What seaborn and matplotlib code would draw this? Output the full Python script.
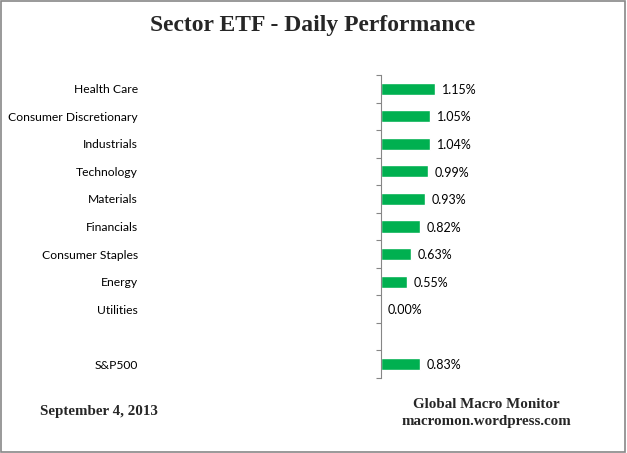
import numpy as np
import pandas as pd
import matplotlib.pyplot as plt
import seaborn as sns

sns.set_theme(style="white")
plt.rcParams['font.family'] = ['Lato', 'DejaVu Sans']

GREEN = "#00B050"

categories = ["Health Care", "Consumer Discretionary", "Industrials", "Technology",
              "Materials", "Financials", "Consumer Staples", "Energy", "Utilities",
              " ", "S&P500"]
values = [1.15, 1.05, 1.04, 0.99, 0.93, 0.82, 0.63, 0.55, 0.00, np.nan, 0.83]
value_labels = ["1.15%", "1.05%", "1.04%", "0.99%", "0.93%", "0.82%", "0.63%",
                "0.55%", "0.00%", "", "0.83%"]

df = pd.DataFrame({"cat": categories, "val": values})

fig = plt.figure(figsize=(6.27, 4.53), dpi=100)
ax = fig.add_axes([381 / 627, 1 - 378 / 453, 219 / 627, 303 / 453])

sns.barplot(data=df, y="cat", x="val", color=GREEN, saturation=1,
            width=0.44, ax=ax, orient="h")

ax.set_xlim(0, 219 / 47)
ax.set_ylim(len(categories) - 0.5, -0.5)
ax.set_xlabel("")
ax.set_ylabel("")
ax.set_xticks([])
ax.set_yticks(np.arange(len(categories) + 1) - 0.5, minor=True)
ax.set_yticks(np.arange(len(categories)))
ax.set_yticklabels(categories, fontsize=8.7, color="#000000")
ax.tick_params(axis="y", which="major", length=0, pad=175)
ax.tick_params(axis="y", which="minor", length=3.5, color="#868686", width=0.8, left=True)
for s in ["top", "right", "bottom"]:
    ax.spines[s].set_visible(False)
ax.spines["left"].set_color("#868686")
ax.spines["left"].set_linewidth(0.8)

for i, (v, lab) in enumerate(zip(values, value_labels)):
    if lab:
        ax.text(v + 0.15, i + 0.04, lab, va="center", ha="left", fontsize=9, color="#000000")

fig.text(313 / 627, 1 - 26 / 453, "Sector ETF - Daily Performance", ha="center", va="center",
         fontsize=17, fontweight="bold", family="Liberation Serif")
fig.text(99 / 627, 1 - 411 / 453, "September 4, 2013", ha="center", va="center",
         fontsize=10.8, fontweight="bold", family="Liberation Serif")
fig.text(486 / 627, 1 - 413 / 453, "Global Macro Monitor\nmacromon.wordpress.com",
         ha="center", va="center", fontsize=10.8, fontweight="bold",
         family="Liberation Serif", linespacing=1.3)

fig.patches.append(plt.Rectangle((0.002, 0.003), 0.995, 0.994, transform=fig.transFigure,
                                 fill=False, edgecolor="#888888", linewidth=1.2))

fig.savefig("out.png", dpi=100)
